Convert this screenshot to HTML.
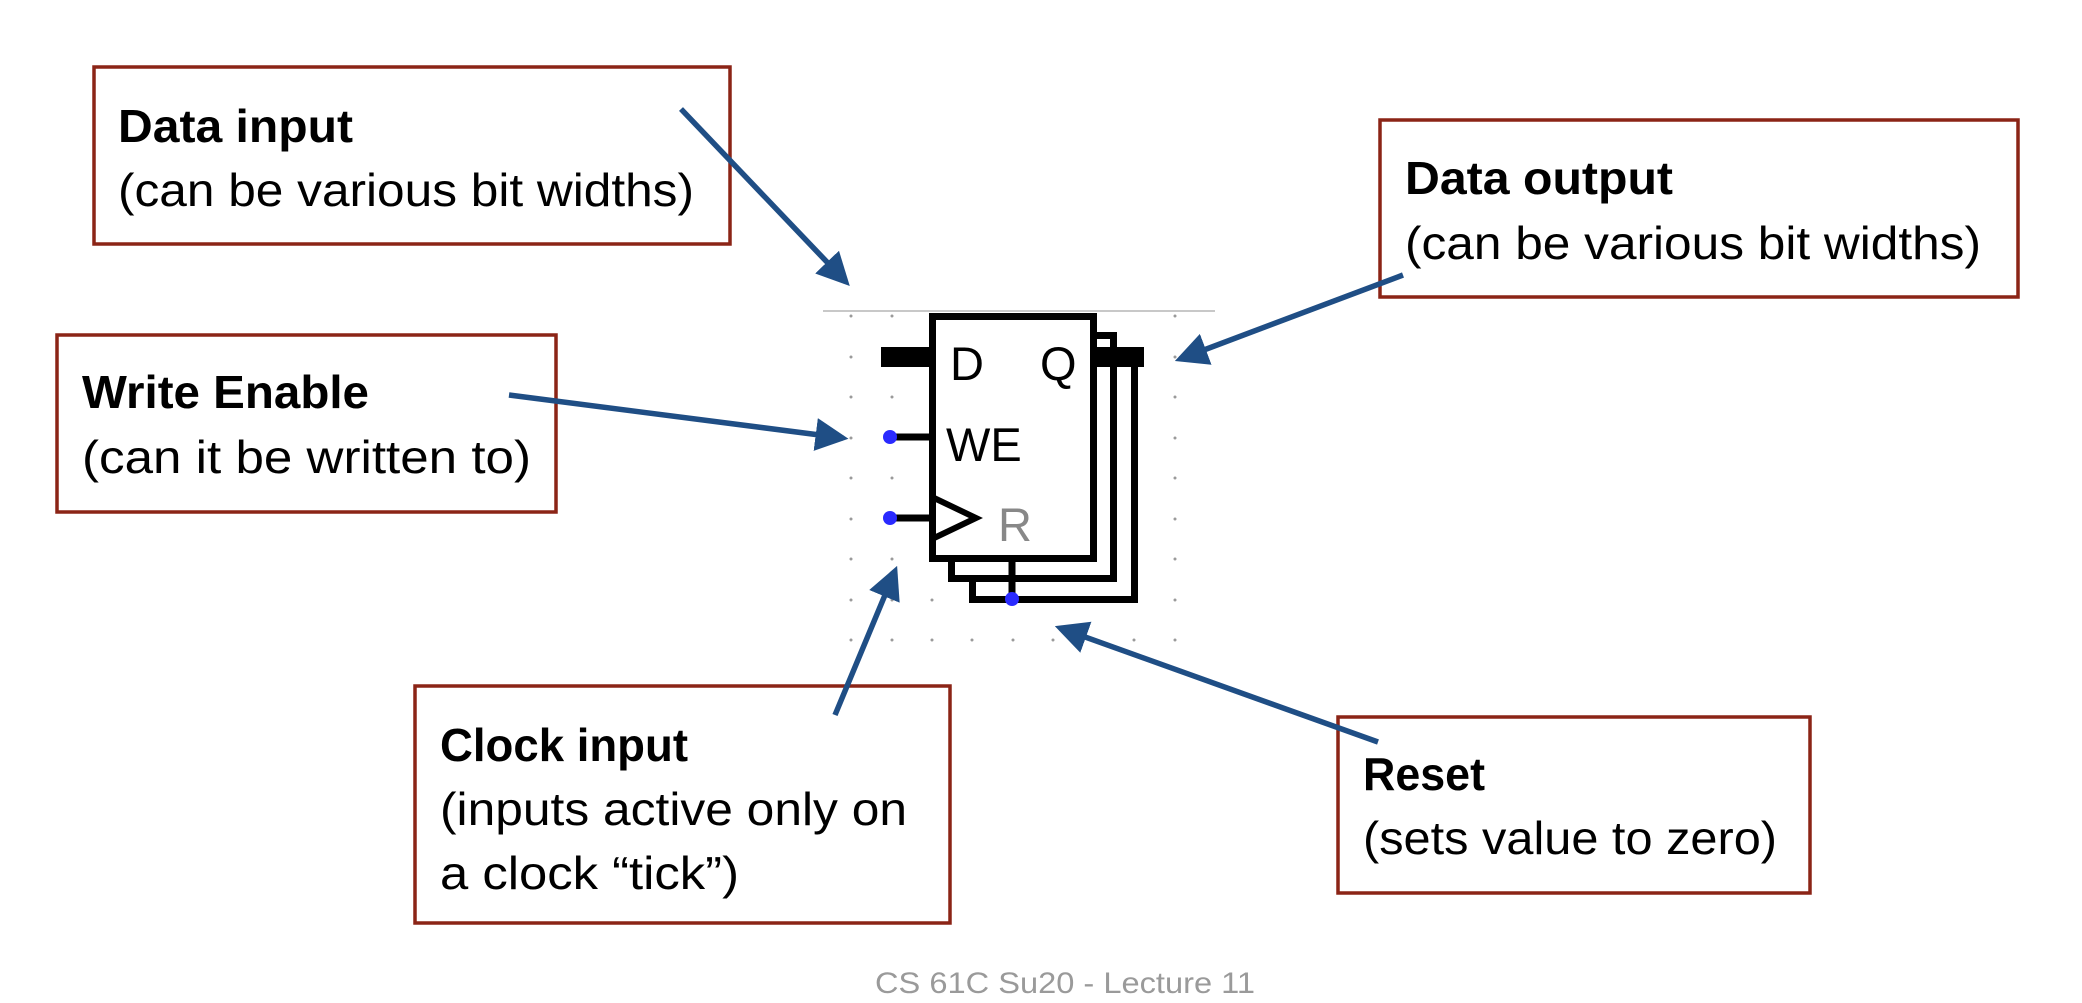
<!DOCTYPE html>
<html><head><meta charset="utf-8"><style>
html,body{margin:0;padding:0;background:#fff;}
svg{display:block;}
text{font-family:"Liberation Sans",sans-serif;}
</style></head><body>
<svg width="2082" height="1003" viewBox="0 0 2082 1003" xmlns="http://www.w3.org/2000/svg">
<defs>
<marker id="ah" markerWidth="6" markerHeight="6" refX="5" refY="3" orient="auto" markerUnits="strokeWidth">
<path d="M0,0 L6,3 L0,6 Z" fill="#1F4E85"/>
</marker>
</defs>
<line x1="823" y1="311" x2="1215" y2="311" stroke="#c8c8c8" stroke-width="2"/>
<g fill="#9a9a9a">
<circle cx="851" cy="316" r="1.5"/><circle cx="892" cy="316" r="1.5"/><circle cx="1175" cy="316" r="1.5"/>
<circle cx="851" cy="357" r="1.5"/><circle cx="1175" cy="357" r="1.5"/>
<circle cx="851" cy="397" r="1.5"/><circle cx="892" cy="397" r="1.5"/><circle cx="1175" cy="397" r="1.5"/>
<circle cx="851" cy="438" r="1.5"/><circle cx="1175" cy="438" r="1.5"/>
<circle cx="851" cy="478" r="1.5"/><circle cx="892" cy="478" r="1.5"/><circle cx="1175" cy="478" r="1.5"/>
<circle cx="851" cy="519" r="1.5"/><circle cx="1175" cy="519" r="1.5"/>
<circle cx="851" cy="559" r="1.5"/><circle cx="892" cy="559" r="1.5"/><circle cx="1175" cy="559" r="1.5"/>
<circle cx="851" cy="600" r="1.5"/><circle cx="892" cy="600" r="1.5"/><circle cx="932" cy="600" r="1.5"/><circle cx="1175" cy="600" r="1.5"/>
<circle cx="851" cy="640" r="1.5"/><circle cx="892" cy="640" r="1.5"/><circle cx="932" cy="640" r="1.5"/><circle cx="972" cy="640" r="1.5"/><circle cx="1013" cy="640" r="1.5"/><circle cx="1053" cy="640" r="1.5"/><circle cx="1094" cy="640" r="1.5"/><circle cx="1134" cy="640" r="1.5"/><circle cx="1175" cy="640" r="1.5"/>
</g>
<g fill="#fff" stroke="#000" stroke-width="7">
<rect x="972.5" y="351.5" width="162" height="248"/>
<rect x="951.5" y="335.5" width="162" height="243"/>
<rect x="932.5" y="316.5" width="161" height="242"/>
</g>
<rect x="1097" y="347" width="47" height="20" fill="#000"/>
<rect x="881" y="347" width="48" height="20" fill="#000"/>
<line x1="890" y1="437" x2="932" y2="437" stroke="#000" stroke-width="7"/>
<line x1="890" y1="518" x2="932" y2="518" stroke="#000" stroke-width="7"/>
<polyline points="932,497 976,518 932,539" fill="none" stroke="#000" stroke-width="6"/>
<line x1="1012" y1="560" x2="1012" y2="600" stroke="#000" stroke-width="7"/>
<circle cx="890" cy="437" r="7" fill="#2a2aff"/>
<circle cx="890" cy="518" r="7" fill="#2a2aff"/>
<circle cx="1012" cy="599" r="7" fill="#2a2aff"/>
<text x="950" y="380" font-size="47">D</text>
<text x="1040" y="380" font-size="47">Q</text>
<text x="946" y="461" font-size="47">WE</text>
<text x="998" y="541" font-size="47" fill="#888">R</text>
<g fill="none" stroke="#8B2416" stroke-width="3.5">
<rect x="94" y="67" width="636" height="177"/>
<rect x="57" y="335" width="499" height="177"/>
<rect x="415" y="686" width="535" height="237"/>
<rect x="1380" y="120" width="638" height="177"/>
<rect x="1338" y="717" width="472" height="176"/>
</g>
<g font-size="46" fill="#000">
<text x="118" y="142" font-weight="bold" textLength="235" lengthAdjust="spacingAndGlyphs">Data input</text>
<text x="118" y="206" textLength="576" lengthAdjust="spacingAndGlyphs">(can be various bit widths)</text>
<text x="82" y="408" font-weight="bold" textLength="287" lengthAdjust="spacingAndGlyphs">Write Enable</text>
<text x="82" y="473" textLength="449" lengthAdjust="spacingAndGlyphs">(can it be written to)</text>
<text x="440" y="761" font-weight="bold" textLength="248" lengthAdjust="spacingAndGlyphs">Clock input</text>
<text x="440" y="825" textLength="467" lengthAdjust="spacingAndGlyphs">(inputs active only on</text>
<text x="440" y="889" textLength="299" lengthAdjust="spacingAndGlyphs">a clock “tick”)</text>
<text x="1405" y="194" font-weight="bold" textLength="268" lengthAdjust="spacingAndGlyphs">Data output</text>
<text x="1405" y="259" textLength="576" lengthAdjust="spacingAndGlyphs">(can be various bit widths)</text>
<text x="1363" y="790" font-weight="bold" textLength="122" lengthAdjust="spacingAndGlyphs">Reset</text>
<text x="1363" y="854" textLength="414" lengthAdjust="spacingAndGlyphs">(sets value to zero)</text>
</g>
<text x="875" y="993" font-size="30" fill="#9a9a9a" textLength="380" lengthAdjust="spacingAndGlyphs">CS 61C Su20 - Lecture 11</text>
<g stroke="#1F4E85" stroke-width="5.5" fill="none" marker-end="url(#ah)">
<line x1="681" y1="109" x2="846" y2="282"/>
<line x1="509" y1="395" x2="843" y2="438"/>
<line x1="835" y1="715" x2="895" y2="571"/>
<line x1="1403" y1="275" x2="1180" y2="359"/>
<line x1="1378" y1="742" x2="1060" y2="628"/>
</g>
</svg>
</body></html>
